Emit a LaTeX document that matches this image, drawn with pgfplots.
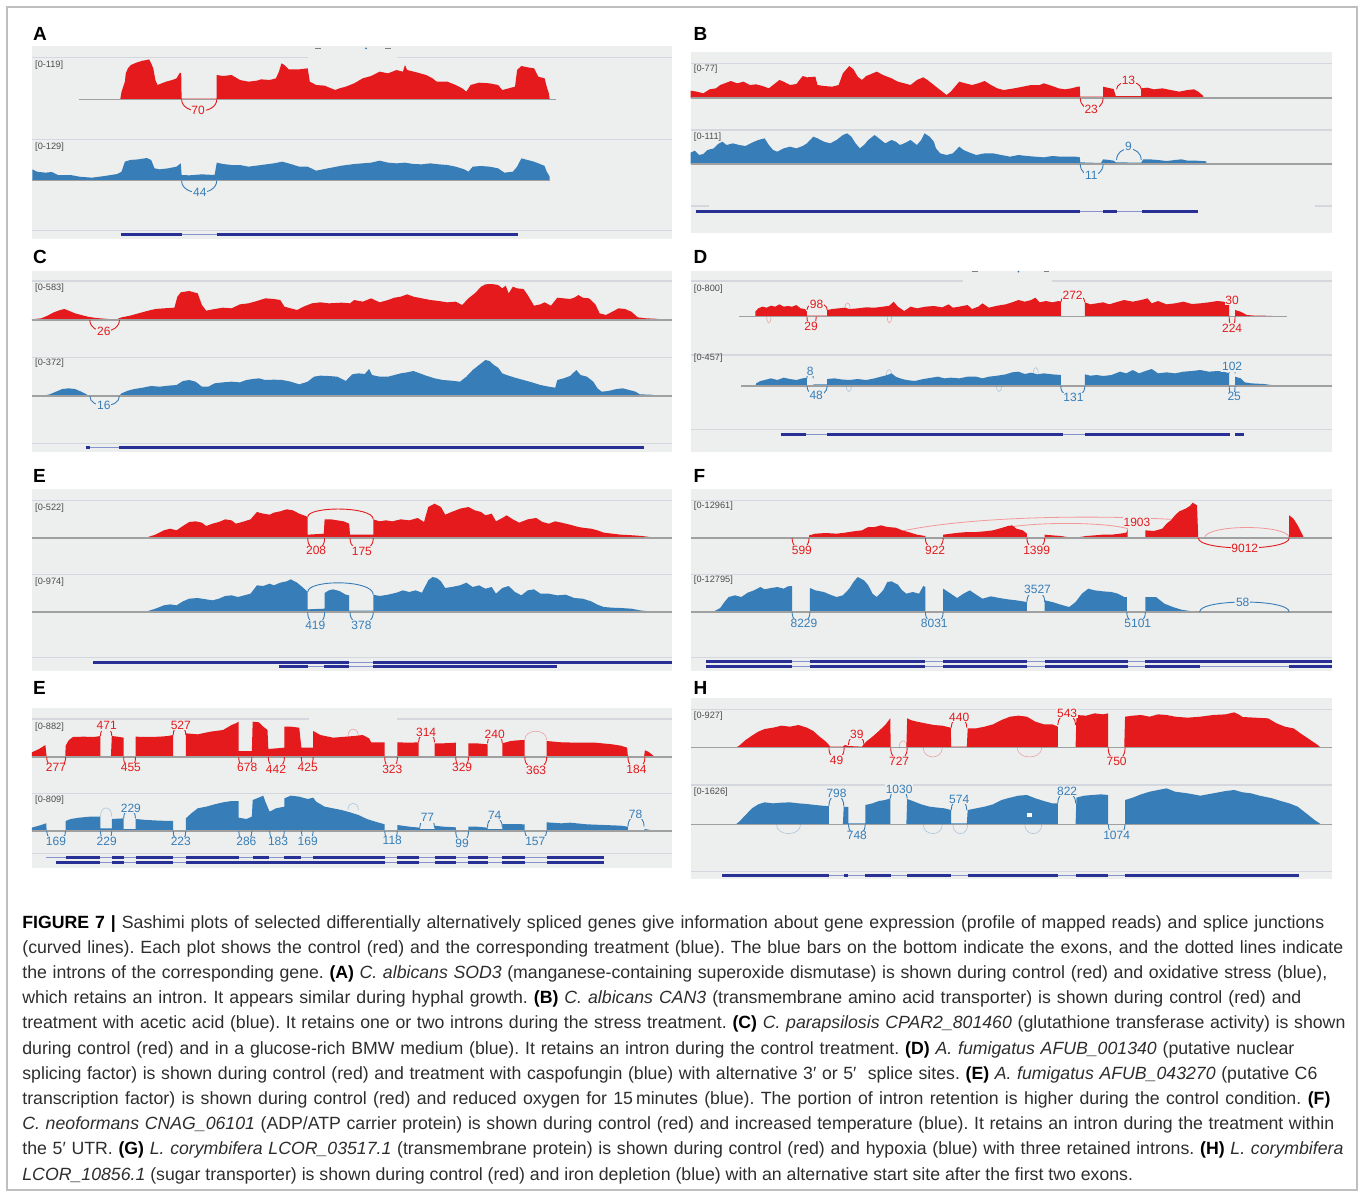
\documentclass[border=0pt]{standalone}
\usepackage{pgfplots}
\pgfplotsset{compat=1.18}
\usepackage{fontspec}
\setmainfont{Liberation Sans}
\frenchspacing
\definecolor{sred}{RGB}{228,26,28}
\definecolor{sblue}{RGB}{55,126,184}
\definecolor{bg}{RGB}{237,238,238}
\definecolor{sep}{RGB}{212,215,221}
\definecolor{basec}{RGB}{160,160,160}
\definecolor{gm}{RGB}{40,48,150}
\definecolor{gmi}{RGB}{135,145,205}
\definecolor{capc}{RGB}{45,45,45}
\newcommand{\jfont}{\fontsize{6}{6}\selectfont}
\newcommand{\bgbox}[4]{\fill[bg] (axis cs:#1,#2) rectangle (axis cs:#3,#4);}
\newcommand{\hl}[3]{\draw[sep, line width=0.6pt] (axis cs:#1,#3) -- (axis cs:#2,#3);}
\newcommand{\bl}[3]{\draw[basec, line width=0.7pt] (axis cs:#1,#3) -- (axis cs:#2,#3);}
\newcommand{\tl}[3]{\node[anchor=west, inner sep=0, text=black!70, font=\fontsize{4.6}{5}\selectfont] at (axis cs:#1,#2) {#3};}
\newcommand{\cov}[2]{\addplot[fill=#1, draw=none] coordinates {#2};}
\newcommand{\jn}[8]{\draw[#1, line width=0.45pt] (axis cs:#2,#4) .. controls (axis cs:#2,#5) and (axis cs:#3,#5) .. (axis cs:#3,#4); \node[fill=bg, text=#1, inner sep=0.4pt, font=\jfont] at (axis cs:#6,#7) {#8};}
\newcommand{\fj}[5]{\draw[#1, opacity=0.35, line width=0.3pt] (axis cs:#2,#4) .. controls (axis cs:#2,#5) and (axis cs:#3,#5) .. (axis cs:#3,#4);}
\newcommand{\ex}[3]{\draw[gm, line width=1.5pt] (axis cs:#1,#3) -- (axis cs:#2,#3);}
\newcommand{\inr}[3]{\draw[gmi, line width=0.4pt] (axis cs:#1,#3) -- (axis cs:#2,#3);}
\pgfplotsset{panel/.style={scale only axis, axis lines=none, xmin=0, xmax=1560, ymin=0, y dir=reverse, clip=false, anchor=north west, width=330pt}}
\begin{document}
\begin{tikzpicture}
\useasboundingbox (0,0) rectangle (680pt,-597.5pt);
\draw[gray!50, line width=0.6pt] (3.5pt,-3.5pt) rectangle (678.5pt,-595pt);
% panel letters
\begin{scope}[every node/.style={anchor=base west, inner sep=0, font=\bfseries\fontsize{9.5}{10}\selectfont}]
\node at (16.4pt,-20.4pt) {A};
\node at (346.6pt,-20.4pt) {B};
\node at (16.4pt,-131.6pt) {C};
\node at (346.6pt,-131.6pt) {D};
\node at (16.4pt,-241.4pt) {E};
\node at (346.6pt,-241.4pt) {F};
\node at (16.4pt,-347pt) {E};
\node at (346.6pt,-347pt) {H};
\end{scope}
% ---------------- A
\begin{axis}[panel, at={(10pt,-10pt)}, height=112.5pt, ymax=675]
\bgbox{28}{78}{1542}{657}
\hl{28}{680}{112}\hl{890}{1542}{112}\hl{28}{1542}{358}\hl{28}{1542}{632}
\draw[gray, line width=0.5pt] (axis cs:697,85) -- (axis cs:712,85); \draw[gray, line width=0.5pt] (axis cs:862,85) -- (axis cs:878,85);
\fill[sblue] (axis cs:818,85) circle (0.5pt);
\tl{35}{135}{[0-119]}\tl{35}{382}{[0-129]}
\cov{sred}{(237,238)(240,215)(248,185)(250,160)(255,145)(262,135)(275,128)(290,122)(300,120)(305,118)(310,130)(315,145)(320,180)(325,195)(335,190)(345,185)(360,180)(370,175)(378,158)(381,160)(382,238)(382,236)(465,236)(465,238)(465,165)(480,168)(500,165)(520,180)(540,185)(560,182)(570,178)(590,180)(605,175)(612,155)(618,130)(625,135)(635,148)(660,148)(680,145)(685,185)(700,195)(720,197)(745,210)(755,205)(770,200)(790,190)(810,175)(830,168)(850,155)(870,160)(890,150)(905,155)(910,135)(915,150)(940,158)(960,165)(975,175)(985,185)(1010,185)(1030,195)(1045,205)(1055,215)(1065,195)(1085,188)(1110,190)(1130,195)(1140,210)(1155,205)(1170,200)(1175,150)(1185,138)(1200,142)(1215,145)(1225,170)(1240,175)(1245,200)(1250,220)(1252,238)}
\bl{140}{1268}{238}
\cov{sblue}{(29,482)(29,448)(40,455)(60,458)(75,456)(90,465)(120,465)(140,470)(170,473)(200,468)(230,462)(240,455)(248,425)(260,420)(280,418)(300,414)(310,420)(318,445)(330,448)(350,445)(370,440)(380,430)(382,465)(400,466)(430,463)(460,465)(465,428)(480,432)(500,435)(520,435)(540,440)(570,435)(600,430)(620,425)(640,432)(660,440)(680,440)(700,452)(720,447)(740,442)(760,437)(790,432)(810,430)(830,428)(850,422)(870,428)(890,430)(910,428)(930,432)(950,433)(970,430)(990,433)(1010,435)(1030,440)(1050,448)(1060,455)(1070,440)(1090,438)(1110,440)(1130,445)(1145,458)(1165,455)(1175,440)(1185,415)(1200,420)(1215,425)(1235,435)(1240,438)(1245,455)(1252,470)(1252,482)}
\bl{29}{1252}{482}
\jn{sred}{382}{465}{238}{285}{421}{272}{70}
\jn{sblue}{382}{465}{482}{530}{425}{518}{44}
\ex{238}{382}{644}\inr{382}{465}{644}\ex{465}{1176}{644}
\end{axis}
% ---------------- B
\begin{axis}[panel, at={(340pt,-10pt)}, height=112.5pt, ymax=675]
\bgbox{25}{96}{1542}{640}
\hl{25}{1542}{130}\hl{25}{1542}{330}\hl{25}{68}{558}\hl{1500}{1542}{558}
\tl{32}{148}{[0-77]}\tl{32}{350}{[0-111]}
\cov{sred}{(25,234)(25,212)(40,215)(55,220)(70,208)(85,205)(95,195)(110,188)(120,183)(135,190)(150,185)(165,195)(180,193)(195,198)(210,205)(220,195)(235,180)(245,185)(260,195)(275,192)(290,168)(300,172)(320,170)(325,195)(340,198)(360,200)(375,195)(385,160)(400,138)(410,148)(420,170)(430,180)(440,168)(450,163)(465,155)(480,165)(500,175)(515,185)(530,190)(545,195)(560,180)(575,172)(585,180)(600,195)(615,210)(630,225)(640,215)(650,200)(660,185)(675,190)(690,195)(705,190)(720,183)(735,195)(750,205)(765,210)(790,205)(810,200)(830,195)(850,195)(860,190)(880,198)(895,205)(910,208)(925,205)(940,200)(945,200)(946,230)(1000,230)(1000,200)(1010,203)(1025,207)(1030,228)(1090,228)(1090,205)(1105,203)(1120,208)(1140,205)(1160,210)(1180,215)(1200,210)(1215,208)(1225,215)(1237,228)(1237,234)}
\bl{25}{1542}{234}
\cov{sblue}{(25,432)(25,398)(35,392)(45,405)(55,402)(65,390)(80,385)(90,372)(100,365)(110,375)(125,370)(140,375)(155,378)(170,368)(185,360)(200,355)(210,375)(220,390)(230,395)(245,385)(260,380)(275,385)(290,378)(300,370)(315,350)(325,355)(340,365)(355,370)(370,360)(385,345)(395,340)(405,350)(415,370)(425,385)(435,375)(445,360)(460,345)(470,355)(485,370)(500,360)(510,365)(520,375)(530,370)(545,360)(560,375)(570,360)(578,340)(590,350)(600,365)(605,385)(615,400)(630,405)(645,400)(660,380)(670,390)(685,398)(700,405)(720,400)(740,400)(760,405)(780,410)(800,405)(820,408)(840,410)(860,412)(880,408)(900,410)(920,410)(935,410)(945,412)(946,427)(995,429)(1000,418)(1015,420)(1025,422)(1030,427)(1090,428)(1095,418)(1110,418)(1130,420)(1150,423)(1170,420)(1185,418)(1200,422)(1220,422)(1244,424)(1244,432)}
\bl{25}{1542}{432}
\jn{sred}{946}{1000}{234}{279}{972}{268}{23}
\jn{sred}{1032}{1090}{208}{178}{1060}{180}{13}
\jn{sblue}{946}{1000}{432}{478}{972}{467}{11}
\jn{sblue}{1032}{1090}{420}{375}{1060}{380}{9}
\ex{37}{946}{573}\inr{946}{1000}{573}\ex{1000}{1032}{573}\inr{1032}{1092}{573}\ex{1092}{1225}{573}
\end{axis}
% ---------------- C
\begin{axis}[panel, at={(10pt,-122.5pt)}, height=107.5pt, ymax=645]
\bgbox{28}{78}{1542}{620}
\hl{28}{1542}{108}\hl{28}{1542}{338}\hl{28}{1542}{596}
\tl{35}{128}{[0-583]}\tl{35}{355}{[0-372]}
\cov{sred}{(28,225)(28,223)(50,220)(65,212)(80,202)(95,195)(105,192)(115,197)(130,205)(145,210)(160,215)(175,218)(190,220)(210,222)(230,222)(240,217)(260,212)(280,205)(300,198)(320,192)(340,190)(365,188)(372,155)(380,142)(400,138)(420,145)(430,180)(440,197)(460,192)(480,188)(500,190)(520,178)(540,175)(560,168)(580,160)(600,162)(615,165)(625,185)(640,190)(655,195)(670,185)(690,175)(710,172)(730,175)(760,173)(780,175)(790,165)(810,170)(830,160)(850,172)(870,165)(885,158)(900,155)(915,148)(930,155)(950,160)(970,165)(990,168)(1010,172)(1030,170)(1045,180)(1060,160)(1075,145)(1090,125)(1100,118)(1115,117)(1130,120)(1140,130)(1148,122)(1155,145)(1165,125)(1175,130)(1190,132)(1200,150)(1215,182)(1230,178)(1240,172)(1255,182)(1270,158)(1285,160)(1300,162)(1310,158)(1320,150)(1330,158)(1345,160)(1360,178)(1370,205)(1385,210)(1400,200)(1415,190)(1430,192)(1445,200)(1460,217)(1480,220)(1500,221)(1525,224)(1525,225)}
\bl{28}{1542}{225}
\cov{sblue}{(55,453)(55,452)(70,448)(85,440)(100,432)(115,430)(130,432)(145,440)(160,450)(165,452)(235,452)(240,445)(255,437)(270,432)(290,428)(310,423)(330,425)(350,422)(370,420)(385,408)(400,405)(415,410)(430,425)(445,425)(460,415)(480,412)(500,410)(520,412)(535,405)(550,402)(565,400)(580,405)(600,404)(620,405)(640,410)(660,418)(680,410)(695,395)(710,392)(730,393)(750,395)(770,408)(785,388)(800,385)(815,387)(825,372)(832,390)(850,395)(870,395)(885,390)(900,385)(915,382)(930,378)(945,385)(960,392)(980,400)(1000,405)(1020,407)(1040,410)(1055,395)(1070,375)(1085,360)(1100,345)(1110,348)(1120,360)(1130,368)(1140,385)(1150,390)(1170,398)(1190,405)(1210,412)(1230,420)(1250,425)(1265,428)(1270,405)(1285,400)(1300,393)(1315,375)(1325,390)(1340,395)(1355,410)(1365,430)(1375,440)(1390,438)(1410,432)(1425,430)(1440,435)(1455,440)(1465,448)(1490,449)(1515,452)(1515,453)}
\bl{28}{1542}{453}
\jn{sred}{165}{235}{225}{270}{198}{258}{26}
\jn{sblue}{165}{235}{453}{492}{198}{482}{16}
\ex{155}{165}{607}\inr{165}{235}{607}\ex{235}{1475}{607}
\end{axis}
% ---------------- D
\begin{axis}[panel, at={(340pt,-122.5pt)}, height=107.5pt, ymax=645]
\bgbox{25}{78}{1542}{620}
\hl{25}{670}{108}\hl{880}{1542}{108}\hl{25}{1542}{330}\hl{25}{1542}{553}
\draw[gray, line width=0.5pt] (axis cs:690,80) -- (axis cs:705,80); \draw[gray, line width=0.5pt] (axis cs:860,80) -- (axis cs:872,80);
\fill[sblue] (axis cs:800,80) circle (0.5pt);
\tl{32}{133}{[0-800]}\tl{32}{338}{[0-457]}
\cov{sred}{(178,215)(178,200)(185,190)(195,185)(205,188)(215,182)(225,185)(235,178)(245,185)(255,183)(265,185)(275,180)(285,190)(295,192)(300,200)(300,212)(348,212)(348,195)(360,192)(375,190)(390,188)(400,192)(420,190)(440,187)(460,188)(480,185)(495,182)(505,170)(515,185)(530,198)(545,185)(560,190)(580,185)(600,183)(620,187)(635,178)(645,188)(660,185)(680,180)(690,192)(705,185)(715,175)(730,188)(750,182)(770,178)(785,172)(800,165)(815,170)(830,165)(840,158)(850,172)(865,168)(880,172)(895,168)(900,170)(900,215)(957,215)(957,172)(970,178)(985,175)(1000,172)(1015,178)(1030,172)(1050,165)(1070,170)(1090,165)(1105,160)(1115,175)(1130,168)(1150,178)(1170,175)(1190,170)(1210,177)(1230,175)(1250,172)(1270,168)(1285,170)(1295,175)(1298,180)(1298,215)(1312,215)(1312,195)(1325,200)(1340,210)(1360,212)(1380,212)(1400,213)(1405,215)}
\bl{140}{1435}{215}
\cov{sblue}{(178,423)(180,415)(190,408)(200,405)(215,400)(230,405)(245,398)(260,402)(275,405)(290,400)(300,398)(300,423)(315,423)(315,418)(348,418)(348,402)(365,400)(380,403)(400,405)(420,402)(440,405)(460,400)(475,395)(490,390)(500,385)(510,395)(520,400)(535,405)(555,408)(575,402)(595,398)(610,395)(625,400)(640,398)(660,400)(680,395)(700,395)(715,400)(730,395)(750,392)(770,388)(785,382)(800,380)(815,387)(830,383)(845,388)(860,385)(880,388)(900,390)(900,423)(957,423)(957,388)(970,392)(985,390)(1000,393)(1020,390)(1040,380)(1055,385)(1070,375)(1085,385)(1100,378)(1115,372)(1130,385)(1150,382)(1170,385)(1190,380)(1210,378)(1230,375)(1250,380)(1270,378)(1285,380)(1298,385)(1298,423)(1312,423)(1312,395)(1325,400)(1335,412)(1350,415)(1380,417)(1410,422)(1410,423)}
\bl{145}{1542}{423}
\fj{sred}{390}{402}{190}{168}\fj{sred}{205}{215}{215}{240}\fj{sred}{490}{500}{215}{240}
\fj{sblue}{393}{405}{423}{445}\fj{sblue}{488}{500}{390}{368}\fj{sblue}{748}{760}{423}{445}\fj{sblue}{835}{847}{385}{362}
\jn{sred}{300}{348}{195}{168}{323}{178}{98}
\jn{sred}{300}{322}{215}{250}{310}{243}{29}
\jn{sred}{900}{957}{172}{140}{928}{150}{272}
\jn{sred}{1298}{1312}{180}{158}{1305}{165}{30}
\jn{sred}{1298}{1312}{215}{255}{1305}{250}{224}
\jn{sblue}{300}{315}{400}{375}{308}{378}{8}
\jn{sblue}{300}{348}{423}{460}{322}{450}{48}
\jn{sblue}{900}{957}{423}{468}{930}{458}{131}
\jn{sblue}{1298}{1312}{385}{360}{1305}{365}{102}
\jn{sblue}{1298}{1312}{423}{462}{1310}{455}{25}
\ex{238}{298}{567}\inr{298}{348}{567}\ex{348}{905}{567}\inr{905}{957}{567}\ex{957}{1300}{567}\ex{1312}{1332}{567}
\end{axis}
% ---------------- E
\begin{axis}[panel, at={(10pt,-231pt)}, height=107.5pt, ymax=645]
\bgbox{28}{82}{1542}{626}
\hl{28}{1542}{115}\hl{28}{1542}{338}\hl{28}{1542}{587}
\tl{35}{138}{[0-522]}\tl{35}{360}{[0-974]}
\cov{sred}{(290,228)(300,226)(320,218)(340,205)(355,200)(370,205)(385,192)(400,180)(415,178)(430,182)(440,192)(455,185)(470,180)(485,172)(500,175)(510,185)(525,180)(545,172)(560,150)(575,155)(590,158)(600,152)(615,148)(630,142)(645,145)(660,155)(675,162)(680,165)(680,218)(718,215)(720,172)(735,172)(750,175)(765,178)(778,185)(780,218)(835,218)(835,172)(850,178)(865,175)(880,178)(900,172)(920,175)(940,168)(955,180)(965,135)(980,125)(995,135)(1005,158)(1020,150)(1040,140)(1060,135)(1075,145)(1090,150)(1100,160)(1115,155)(1125,178)(1140,168)(1150,160)(1165,172)(1180,182)(1200,172)(1220,168)(1235,180)(1250,185)(1265,178)(1280,182)(1300,188)(1320,195)(1335,198)(1350,200)(1365,205)(1380,212)(1400,215)(1420,218)(1450,220)(1470,222)(1495,226)(1495,228)}
\bl{28}{1542}{228}
\cov{sblue}{(290,450)(300,448)(320,440)(340,430)(355,427)(370,430)(385,418)(400,410)(420,408)(440,412)(455,415)(470,410)(485,402)(500,400)(515,405)(530,400)(545,395)(560,370)(575,372)(590,365)(600,370)(615,362)(630,358)(640,352)(655,362)(670,378)(680,390)(680,442)(720,440)(720,393)(730,385)(740,382)(755,387)(770,398)(778,400)(778,446)(835,446)(835,398)(850,402)(870,398)(890,392)(905,385)(920,390)(935,385)(950,392)(965,355)(975,345)(985,348)(995,358)(1005,378)(1020,375)(1040,370)(1055,362)(1070,375)(1085,370)(1100,380)(1115,375)(1125,395)(1140,378)(1155,372)(1170,390)(1185,400)(1200,385)(1215,382)(1230,395)(1250,395)(1270,400)(1290,398)(1310,408)(1330,410)(1350,418)(1365,428)(1380,435)(1400,437)(1420,438)(1445,440)(1465,445)(1495,449)(1520,450)}
\bl{28}{1542}{450}
\draw[sred, line width=0.45pt] (axis cs:680,165) .. controls (axis cs:680,132) and (axis cs:835,132) .. (axis cs:835,172);
\draw[sblue, line width=0.45pt] (axis cs:680,390) .. controls (axis cs:680,352) and (axis cs:835,352) .. (axis cs:835,398);
\jn{sred}{680}{720}{228}{275}{700}{266}{208}
\jn{sred}{780}{835}{228}{278}{808}{268}{175}
\jn{sblue}{680}{720}{450}{500}{698}{490}{419}
\jn{sblue}{780}{835}{450}{500}{807}{490}{378}
\ex{173}{778}{600}\inr{778}{835}{600}\ex{835}{1542}{600}
\ex{613}{680}{614}\inr{680}{718}{614}\ex{718}{778}{614}\inr{778}{835}{614}\ex{835}{1270}{614}
\end{axis}
% ---------------- F
\begin{axis}[panel, at={(340pt,-231pt)}, height=107.5pt, ymax=645]
\bgbox{25}{82}{1542}{626}
\hl{25}{1542}{115}\hl{25}{1542}{338}\hl{25}{1542}{587}
\tl{32}{133}{[0-12961]}\tl{32}{355}{[0-12795]}
\draw[sred!45, line width=0.4pt] (axis cs:525,207) .. controls (axis cs:700,160) and (axis cs:1000,160) .. (axis cs:1160,172);
\draw[sred!45, line width=0.4pt] (axis cs:740,207) .. controls (axis cs:800,178) and (axis cs:1000,178) .. (axis cs:1058,200);
\draw[sred!45, line width=0.4pt] (axis cs:1240,228) .. controls (axis cs:1240,186) and (axis cs:1440,186) .. (axis cs:1440,228);
\cov{sred}{(230,228)(232,225)(265,225)(268,228)(305,228)(305,220)(320,215)(345,213)(370,215)(390,212)(410,208)(430,205)(445,195)(460,195)(475,190)(490,195)(510,197)(525,205)(545,212)(560,218)(580,222)(580,228)(622,228)(622,218)(640,215)(660,212)(680,210)(700,210)(720,208)(740,205)(760,198)(775,192)(785,190)(795,200)(810,205)(820,215)(820,228)(862,228)(862,218)(880,220)(900,222)(920,226)(935,228)(945,225)(960,222)(980,220)(1000,218)(1020,218)(1040,215)(1055,212)(1058,200)(1058,228)(1100,228)(1100,205)(1120,207)(1140,200)(1150,185)(1160,175)(1170,160)(1180,148)(1195,140)(1205,132)(1212,122)(1222,130)(1225,228)}
\cov{sred}{(1440,228)(1440,160)(1450,170)(1460,190)(1470,215)(1475,228)}
\bl{25}{1542}{228}
\cov{sblue}{(75,450)(85,445)(95,438)(105,420)(115,405)(130,400)(145,405)(160,392)(175,385)(190,375)(200,382)(215,378)(230,375)(245,380)(255,373)(265,372)(265,450)(307,450)(307,378)(320,385)(340,390)(355,398)(370,405)(385,400)(400,380)(410,360)(420,345)(435,355)(445,370)(455,395)(465,405)(480,385)(490,360)(500,358)(515,368)(525,385)(535,395)(550,390)(565,395)(575,372)(580,375)(580,450)(622,450)(622,380)(640,395)(655,408)(670,395)(685,385)(700,398)(715,410)(735,403)(755,408)(775,412)(795,415)(820,420)(820,450)(862,450)(862,415)(880,420)(900,428)(920,435)(935,420)(950,395)(965,380)(980,385)(1000,388)(1020,390)(1035,395)(1050,405)(1056,405)(1056,450)(1100,450)(1100,405)(1125,405)(1135,415)(1145,425)(1165,435)(1185,443)(1205,447)(1225,449)(1225,450)}
\bl{25}{1542}{450}
\node[fill=bg, text=sred, inner sep=0.4pt, font=\jfont] at (axis cs:1080,180) {1903};
\jn{sred}{265}{305}{228}{272}{288}{265}{599}
\jn{sred}{580}{622}{228}{272}{603}{265}{922}
\jn{sred}{820}{862}{228}{272}{843}{265}{1399}
\jn{sred}{1225}{1440}{228}{268}{1335}{258}{9012}
\jn{sblue}{265}{307}{450}{495}{293}{485}{8229}
\jn{sblue}{580}{622}{450}{495}{601}{485}{8031}
\jn{sblue}{820}{862}{420}{375}{845}{383}{3527}
\jn{sblue}{1056}{1100}{450}{495}{1082}{485}{5101}
\jn{sblue}{1228}{1440}{450}{410}{1330}{422}{58}
\ex{62}{265}{598}\inr{265}{307}{598}\ex{307}{580}{598}\inr{580}{622}{598}\ex{622}{820}{598}\inr{820}{862}{598}\ex{862}{1058}{598}\inr{1058}{1100}{598}\ex{1100}{1542}{598}
\ex{62}{265}{612}\inr{265}{307}{612}\ex{307}{580}{612}\inr{580}{622}{612}\ex{622}{820}{612}\inr{820}{862}{612}\ex{862}{1058}{612}\inr{1058}{1100}{612}\ex{1100}{1228}{612}\inr{1228}{1440}{612}\ex{1440}{1542}{612}
\end{axis}
% ---------------- G (labelled E)
\begin{axis}[panel, at={(10pt,-337.5pt)}, height=100pt, ymax=600]
\bgbox{28}{100}{1542}{580}
\hl{28}{683}{132}\hl{890}{1542}{132}\hl{28}{1542}{355}\hl{28}{1542}{535}
\tl{35}{155}{[0-882]}\tl{35}{375}{[0-809]}
\cov{sred}{(28,246)(28,232)(45,222)(60,210)(63,246)(90,246)(95,243)(107,243)(108,212)(115,196)(125,186)(150,185)(175,186)(190,183)(190,243)(215,243)(217,183)(230,185)(245,188)(245,246)(273,246)(273,185)(300,186)(330,185)(350,183)(362,180)(362,246)(392,246)(392,175)(420,178)(450,170)(480,165)(500,150)(510,145)(517,140)(517,228)(548,228)(550,140)(565,142)(575,155)(585,165)(587,222)(625,218)(625,155)(640,155)(660,158)(665,218)(693,218)(693,168)(710,180)(740,188)(770,185)(790,183)(810,180)(825,190)(830,202)(845,202)(862,202)(862,246)(892,246)(892,202)(920,203)(942,202)(942,246)(980,246)(980,205)(1000,205)(1030,203)(1030,246)(1060,246)(1060,205)(1080,205)(1105,208)(1105,246)(1140,246)(1140,205)(1160,198)(1175,196)(1193,195)(1193,246)(1245,246)(1245,198)(1280,202)(1320,203)(1360,203)(1400,208)(1420,212)(1435,218)(1437,246)(1475,246)(1477,226)(1485,230)(1495,240)(1500,246)}
\bl{28}{1542}{246}
\cov{sblue}{(28,468)(28,458)(50,450)(62,445)(63,468)(108,468)(108,438)(120,432)(140,428)(165,425)(190,425)(190,460)(217,460)(217,432)(245,430)(245,462)(273,462)(273,432)(300,435)(330,437)(362,438)(362,468)(392,468)(392,430)(405,415)(420,400)(440,395)(460,388)(480,382)(500,378)(517,378)(517,428)(535,432)(548,425)(550,375)(560,370)(575,362)(580,380)(590,410)(605,400)(625,395)(625,370)(640,362)(660,365)(680,372)(693,368)(700,380)(720,395)(740,400)(760,405)(780,412)(800,420)(820,432)(840,440)(862,448)(862,468)(892,468)(892,450)(920,455)(945,458)(945,462)(980,462)(980,452)(1000,455)(1030,457)(1030,468)(1060,468)(1060,455)(1080,455)(1105,458)(1105,462)(1140,462)(1140,447)(1165,447)(1193,448)(1193,466)(1245,466)(1245,442)(1280,445)(1300,443)(1340,448)(1380,450)(1420,452)(1437,455)(1437,466)(1475,466)(1477,462)(1490,465)(1500,468)}
\bl{28}{1542}{468}
\fj{sred}{775}{800}{185}{155}\fj{sred}{1193}{1245}{195}{160}
\fj{sblue}{190}{217}{425}{390}\fj{sblue}{775}{800}{405}{378}
\jn{sred}{63}{108}{246}{290}{85}{278}{277}
\jn{sred}{245}{273}{246}{290}{262}{278}{455}
\jn{sred}{517}{548}{246}{290}{537}{278}{678}
\jn{sred}{587}{625}{246}{292}{605}{283}{442}
\jn{sred}{665}{693}{246}{290}{680}{278}{425}
\jn{sred}{862}{892}{246}{292}{880}{282}{323}
\jn{sred}{1030}{1060}{246}{290}{1045}{278}{329}
\jn{sred}{1193}{1245}{246}{295}{1220}{285}{363}
\jn{sred}{1437}{1477}{246}{292}{1457}{282}{184}
\jn{sred}{190}{217}{183}{150}{205}{152}{471}
\jn{sred}{362}{392}{180}{145}{380}{150}{527}
\jn{sred}{942}{980}{202}{165}{960}{172}{314}
\jn{sred}{1105}{1140}{205}{170}{1122}{178}{240}
\jn{sblue}{63}{108}{468}{505}{85}{498}{169}
\jn{sblue}{190}{217}{468}{505}{205}{498}{229}
\jn{sblue}{362}{392}{468}{508}{380}{500}{223}
\jn{sblue}{517}{548}{468}{508}{535}{500}{286}
\jn{sblue}{590}{625}{468}{508}{610}{500}{183}
\jn{sblue}{665}{693}{468}{505}{680}{498}{169}
\jn{sblue}{862}{892}{468}{505}{880}{497}{118}
\jn{sblue}{1030}{1060}{468}{512}{1045}{505}{99}
\jn{sblue}{1193}{1245}{468}{505}{1218}{498}{157}
\jn{sblue}{245}{273}{430}{395}{262}{400}{229}
\jn{sblue}{945}{980}{458}{420}{963}{428}{77}
\jn{sblue}{1105}{1140}{458}{415}{1122}{420}{74}
\jn{sblue}{1437}{1475}{455}{412}{1455}{418}{78}
\inr{62}{1380}{548}
\ex{108}{190}{548}\ex{217}{245}{548}\ex{273}{362}{548}\ex{392}{517}{548}\ex{550}{588}{548}\ex{625}{665}{548}\ex{693}{862}{548}\ex{892}{942}{548}\ex{980}{1030}{548}\ex{1060}{1105}{548}\ex{1140}{1193}{548}\ex{1245}{1380}{548}
\inr{85}{1380}{562}
\ex{85}{190}{562}\ex{217}{245}{562}\ex{273}{362}{562}\ex{392}{862}{562}\ex{892}{942}{562}\ex{980}{1030}{562}\ex{1060}{1105}{562}\ex{1140}{1193}{562}\ex{1245}{1380}{562}
\end{axis}
% ---------------- H
\begin{axis}[panel, at={(340pt,-337.5pt)}, height=105pt, ymax=630]
\bgbox{25}{70}{1542}{613}
\hl{25}{1542}{103}\hl{25}{1542}{330}\hl{25}{1542}{590}
\tl{32}{123}{[0-927]}\tl{32}{350}{[0-1626]}
\cov{sred}{(132,218)(140,212)(155,195)(170,182)(185,170)(200,162)(220,158)(240,152)(260,155)(280,150)(300,158)(315,168)(330,185)(345,200)(352,210)(355,215)(385,215)(390,210)(398,213)(430,215)(440,200)(455,185)(470,168)(485,150)(497,130)(498,218)(535,218)(537,130)(545,135)(560,140)(580,145)(600,150)(620,152)(640,158)(641,215)(678,215)(680,160)(700,160)(720,155)(740,148)(760,135)(780,125)(800,122)(820,125)(840,140)(860,148)(880,148)(893,155)(893,218)(935,218)(937,120)(960,122)(980,115)(1000,118)(1012,115)(1012,218)(1050,218)(1052,125)(1070,122)(1090,120)(1110,125)(1130,118)(1150,120)(1170,125)(1200,128)(1230,125)(1260,120)(1290,118)(1310,112)(1320,118)(1330,126)(1360,128)(1390,130)(1410,145)(1430,155)(1450,160)(1470,178)(1490,195)(1505,208)(1515,218)}
\bl{25}{1542}{218}
\cov{sblue}{(132,448)(140,440)(155,420)(170,400)(185,388)(200,382)(220,385)(240,383)(260,382)(280,385)(300,387)(320,390)(345,393)(352,393)(352,448)(385,448)(387,395)(398,396)(398,445)(438,445)(438,390)(455,385)(470,378)(485,375)(497,370)(497,448)(535,448)(537,372)(550,378)(570,388)(590,395)(610,398)(625,400)(641,405)(641,445)(678,445)(680,405)(700,400)(720,395)(740,388)(760,375)(780,368)(800,362)(820,360)(840,370)(860,378)(880,385)(893,385)(893,448)(935,448)(937,368)(955,362)(975,360)(995,358)(1012,360)(1012,448)(1052,448)(1052,375)(1070,368)(1090,358)(1110,350)(1130,345)(1150,340)(1170,350)(1200,355)(1230,362)(1260,355)(1290,348)(1310,345)(1330,352)(1350,355)(1370,362)(1400,370)(1420,378)(1440,385)(1460,395)(1480,415)(1500,435)(1515,448)}
\bl{25}{1542}{448}
\fill[white] (axis cs:820,415) rectangle (axis cs:832,425);
\fj{sred}{575}{620}{218}{255}\fj{sred}{797}{855}{218}{255}\fj{sred}{518}{537}{218}{190}
\fj{sblue}{228}{285}{448}{485}\fj{sblue}{575}{620}{448}{485}\fj{sblue}{645}{680}{448}{485}\fj{sblue}{815}{855}{448}{485}
\jn{sred}{352}{388}{218}{265}{370}{255}{49}
\jn{sred}{498}{537}{218}{268}{518}{258}{727}
\jn{sred}{1012}{1052}{218}{268}{1032}{258}{750}
\jn{sred}{398}{435}{210}{172}{418}{178}{39}
\jn{sred}{641}{678}{158}{120}{660}{127}{440}
\jn{sred}{893}{935}{150}{108}{915}{115}{543}
\jn{sblue}{352}{387}{393}{350}{370}{355}{798}
\jn{sblue}{497}{537}{370}{335}{518}{342}{1030}
\jn{sblue}{641}{678}{405}{365}{660}{372}{574}
\jn{sblue}{893}{935}{385}{340}{915}{348}{822}
\jn{sblue}{398}{438}{448}{490}{418}{482}{748}
\jn{sblue}{1012}{1052}{448}{490}{1032}{480}{1074}
\ex{100}{352}{600}\inr{352}{387}{600}\ex{387}{398}{600}\inr{398}{438}{600}\ex{438}{498}{600}\inr{498}{537}{600}\ex{537}{641}{600}\inr{641}{680}{600}\ex{680}{893}{600}\inr{893}{935}{600}\ex{935}{1012}{600}\inr{1012}{1052}{600}\ex{1052}{1462}{600}
\end{axis}
% ---------------- caption
\node[anchor=base west, inner sep=0, align=left, text=capc, font=\fontsize{8.85}{12.6}\selectfont] at (11pt,-590pt) {%
\makebox[651pt][s]{\textbf{\color{black}FIGURE 7 |} Sashimi plots of selected differentially alternatively spliced genes give information about gene expression (profile of mapped reads) and splice junctions}\\
\makebox[660.5pt][s]{(curved lines). Each plot shows the control (red) and the corresponding treatment (blue). The blue bars on the bottom indicate the exons, and the dotted lines indicate}\\
\makebox[652.5pt][s]{the introns of the corresponding gene. \textbf{\color{black}(A)} \textit{C. albicans SOD3} (manganese-containing superoxide dismutase) is shown during control (red) and oxidative stress (blue),}\\
\makebox[639.5pt][s]{which retains an intron. It appears similar during hyphal growth. \textbf{\color{black}(B)} \textit{C. albicans CAN3} (transmembrane amino acid transporter) is shown during control (red) and}\\
\makebox[661.5pt][s]{treatment with acetic acid (blue). It retains one or two introns during the stress treatment. \textbf{\color{black}(C)} \textit{C. parapsilosis CPAR2\_801460} (glutathione transferase activity) is shown}\\
\makebox[636pt][s]{during control (red) and in a glucose-rich BMW medium (blue). It retains an intron during the control treatment. \textbf{\color{black}(D)} \textit{A. fumigatus AFUB\_001340} (putative nuclear}\\
\makebox[647.5pt][s]{splicing factor) is shown during control (red) and treatment with caspofungin (blue) with alternative 3′ or 5′\ \ splice sites. \textbf{\color{black}(E)} \textit{A. fumigatus AFUB\_043270} (putative C6}\\
\makebox[654pt][s]{transcription factor) is shown during control (red) and reduced oxygen for 15\,minutes (blue). The portion of intron retention is higher during the control condition. \textbf{\color{black}(F)}}\\
\makebox[656pt][s]{\textit{C. neoformans CNAG\_06101} (ADP/ATP carrier protein) is shown during control (red) and increased temperature (blue). It retains an intron during the treatment within}\\
\makebox[660.5pt][s]{the 5′ UTR. \textbf{\color{black}(G)} \textit{L. corymbifera LCOR\_03517.1} (transmembrane protein) is shown during control (red) and hypoxia (blue) with three retained introns. \textbf{\color{black}(H)} \textit{L. corymbifera}}\\
\textit{LCOR\_10856.1} (sugar transporter) is shown during control (red) and iron depletion (blue) with an alternative start site after the first two exons.};
\end{tikzpicture}
\end{document}
